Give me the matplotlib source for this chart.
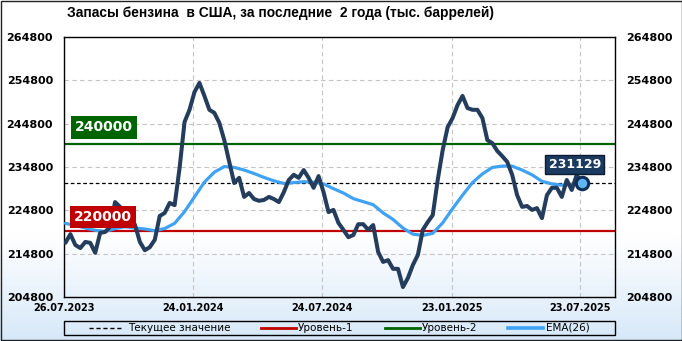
import numpy as np
import pandas as pd
import matplotlib
matplotlib.use("Agg")
import matplotlib.pyplot as plt
import matplotlib.dates as mdates
from matplotlib.lines import Line2D
from matplotlib.patches import Rectangle

# ---------------- data ----------------
title = "Запасы бензина  в США, за последние  2 года (тыс. баррелей)"
start_date = "2023-07-28"
values = [
    217300, 219300, 216800, 216100, 217500, 217300, 215000, 219600, 219800, 221000,
    226700, 225600, 224400, 223000, 221500, 217500, 215600, 216300, 218000, 223500,
    224200, 226500, 226000, 234600, 245200, 248000, 252100, 254200, 251200, 248000,
    247300, 245000, 241000, 236000, 231100, 232300, 227900, 228800, 227400, 227000,
    227200, 227900, 227400, 226700, 229000, 231800, 233000, 232300, 234100, 232300,
    230000, 232700, 229000, 224400, 224900, 221900, 220300, 218600, 219100, 221600,
    221600, 220300, 221400, 215200, 212900, 213300, 211300, 211300, 207100, 209200,
    212200, 214500, 220300, 222100, 223700, 231800, 238700, 244000, 246100, 249100,
    251200, 248400, 248000, 248000, 246100, 241000, 240300, 238500, 237300, 236000,
    233000, 228300, 225600, 225800, 224900, 225300, 223000, 228300, 230000, 230000,
    227900, 231800, 229500, 233000, 231129,
]
# EMA(26) read every second week
ema_values = [
    221800, 221300, 220700, 220200, 219900, 220600, 221000, 220700, 220500, 220100,
    220600, 221800, 224500, 227900, 231300, 233600, 234900, 234700, 234100, 233300,
    232400, 231600, 231000, 231200, 231400, 231300, 230900, 229800, 228800, 227500,
    226800, 226100, 224200, 222700, 220700, 219300, 219000, 219500, 221900, 225200,
    228300, 231200, 233200, 234700, 235000, 235000, 234100, 233000, 231500, 230900,
    230600, 230800, 230900,
]
level1 = 220000
level2 = 240000
current_value = 231129
y_ticks = [204800, 214800, 224800, 234800, 244800, 254800, 264800]
x_tick_dates = ["2023-07-26", "2024-01-24", "2024-07-24", "2025-01-23", "2025-07-23"]
x_tick_labels = ["26.07.2023", "24.01.2024", "24.07.2024", "23.01.2025", "23.07.2025"]
legend_labels = ["Текущее значение", "Уровень-1", "Уровень-2", "EMA(26)"]

dates = pd.date_range(start_date, periods=len(values), freq="7D")
ema_dates = dates[::2]

# ---------------- style ----------------
W, H = 682, 341
C_MAIN = "#243d5c"
C_EMA = "#3fa2f2"
C_RED = "#c00000"
C_GREEN = "#006400"
C_LABEL = "#1b3a60"
PX = 0.72  # points per pixel at 100 dpi

fig = plt.figure(figsize=(W / 100, H / 100), dpi=100)

# background gradient
bg = fig.add_axes([0, 0, 1, 1], zorder=-10)
rows = np.arange(H)
t = np.clip((rows - 235) / (H - 235), 0, 1)[:, None]
end = np.array([0.84, 0.91, 0.975])
grad = (1 - t) * np.array([1.0, 1.0, 1.0]) + t * end
img = np.repeat(grad[:, None, :], 2, axis=1)
bg.imshow(img, extent=[0, W, H, 0], aspect="auto", interpolation="bilinear")
bg.set_xlim(0, W)
bg.set_ylim(H, 0)
bg.axis("off")

# main axes
ax = fig.add_axes([64 / W, 44 / H, 551 / W, 260 / H])
ax.patch.set_alpha(0)
x0 = mdates.date2num(pd.Timestamp("2023-07-26"))
ax.set_xlim(x0, x0 + 777)
ax.set_ylim(204800, 264800)
ax.set_yticks(y_ticks)
ax.set_yticklabels([str(v) for v in y_ticks])
ax.set_xticks([mdates.date2num(pd.Timestamp(d)) for d in x_tick_dates])
ax.set_xticklabels(x_tick_labels)
ax.tick_params(axis="y", length=0, pad=11 * PX, labelsize=8, labelright=True,
               labelleft=True)
ax.tick_params(axis="x", length=0, pad=6 * PX, labelsize=7)
for lab in ax.get_xticklabels() + ax.get_yticklabels():
    lab.set_fontweight("bold")
for tl in ax.yaxis.get_major_ticks():
    tl.label2.set_fontweight("bold")
    tl.label2.set_fontsize(8)
ax.grid(True, color="#c4c4c4", linestyle=(0, (4, 3)), linewidth=0.8, zorder=0)
ax.set_axisbelow(True)
for s in ax.spines.values():
    s.set_color("black")
    s.set_linewidth(1)

ax.axhline(level1, color=C_RED, lw=1.6, zorder=2)
ax.axhline(level2, color=C_GREEN, lw=1.6, zorder=2)
ax.axhline(current_value, color="black", lw=0.9, linestyle=(0, (3, 2)), zorder=2)

ax.plot(ema_dates, ema_values, color=C_EMA, lw=2.3, zorder=3,
        solid_capstyle="round", solid_joinstyle="round")
ax.plot(dates, values, color=C_MAIN, lw=2.9, zorder=4,
        solid_capstyle="round", solid_joinstyle="round")
ax.plot([dates[-1]], [values[-1]], "o", ms=9, mfc="#5db5f2", mec="#0f2d55",
        mew=2.2, zorder=6)

# level labels
ax.annotate(str(level2), xy=(0, level2), xycoords=("axes fraction", "data"),
            xytext=(11 * PX, 10 * PX), textcoords="offset points",
            ha="left", va="bottom", color="white", fontsize=10, fontweight="bold",
            bbox=dict(boxstyle="square,pad=0.3", fc=C_GREEN, ec="none"), zorder=7)
ax.annotate(str(level1), xy=(0, level1), xycoords=("axes fraction", "data"),
            xytext=(10 * PX, 7 * PX), textcoords="offset points",
            ha="left", va="bottom", color="white", fontsize=10, fontweight="bold",
            bbox=dict(boxstyle="square,pad=0.3", fc=C_RED, ec="none"), zorder=7)
ax.annotate(str(current_value), xy=(dates[-1], values[-1]),
            xytext=(-7 * PX, 18.5 * PX), textcoords="offset points",
            ha="center", va="center", color="white", fontsize=9, fontweight="bold",
            bbox=dict(boxstyle="square,pad=0.25", fc=C_LABEL, ec="#0b1a2e", lw=1),
            zorder=8)

# overlay: title, legend, border
ov = fig.add_axes([0, 0, 1, 1], zorder=10)
ov.set_xlim(0, W)
ov.set_ylim(H, 0)
ov.axis("off")
ov.patch.set_alpha(0)
ov.text(67, 13, title, ha="left", va="center", fontsize=9.9, fontweight="bold",
        family=["Liberation Sans", "DejaVu Sans"])
ov.add_patch(Rectangle((64, 321), 551, 14, fill=False, ec="black", lw=1))
ly = 328
ov.add_line(Line2D([89, 122], [ly, ly], color="black", lw=1, linestyle=(0, (3, 2))))
ov.add_line(Line2D([261, 296], [ly, ly], color=C_RED, lw=2))
ov.add_line(Line2D([385, 420], [ly, ly], color=C_GREEN, lw=2))
ov.add_line(Line2D([508, 543], [ly, ly], color=C_EMA, lw=2.6))
for x, lab in zip([128, 298, 422, 546], legend_labels):
    ov.text(x, ly, lab, ha="left", va="center", fontsize=7.5)
ov.add_patch(Rectangle((0.5, 0.5), W - 1, H - 2, fill=False, ec="#222222", lw=1))

fig.savefig("out.png", dpi=100)
